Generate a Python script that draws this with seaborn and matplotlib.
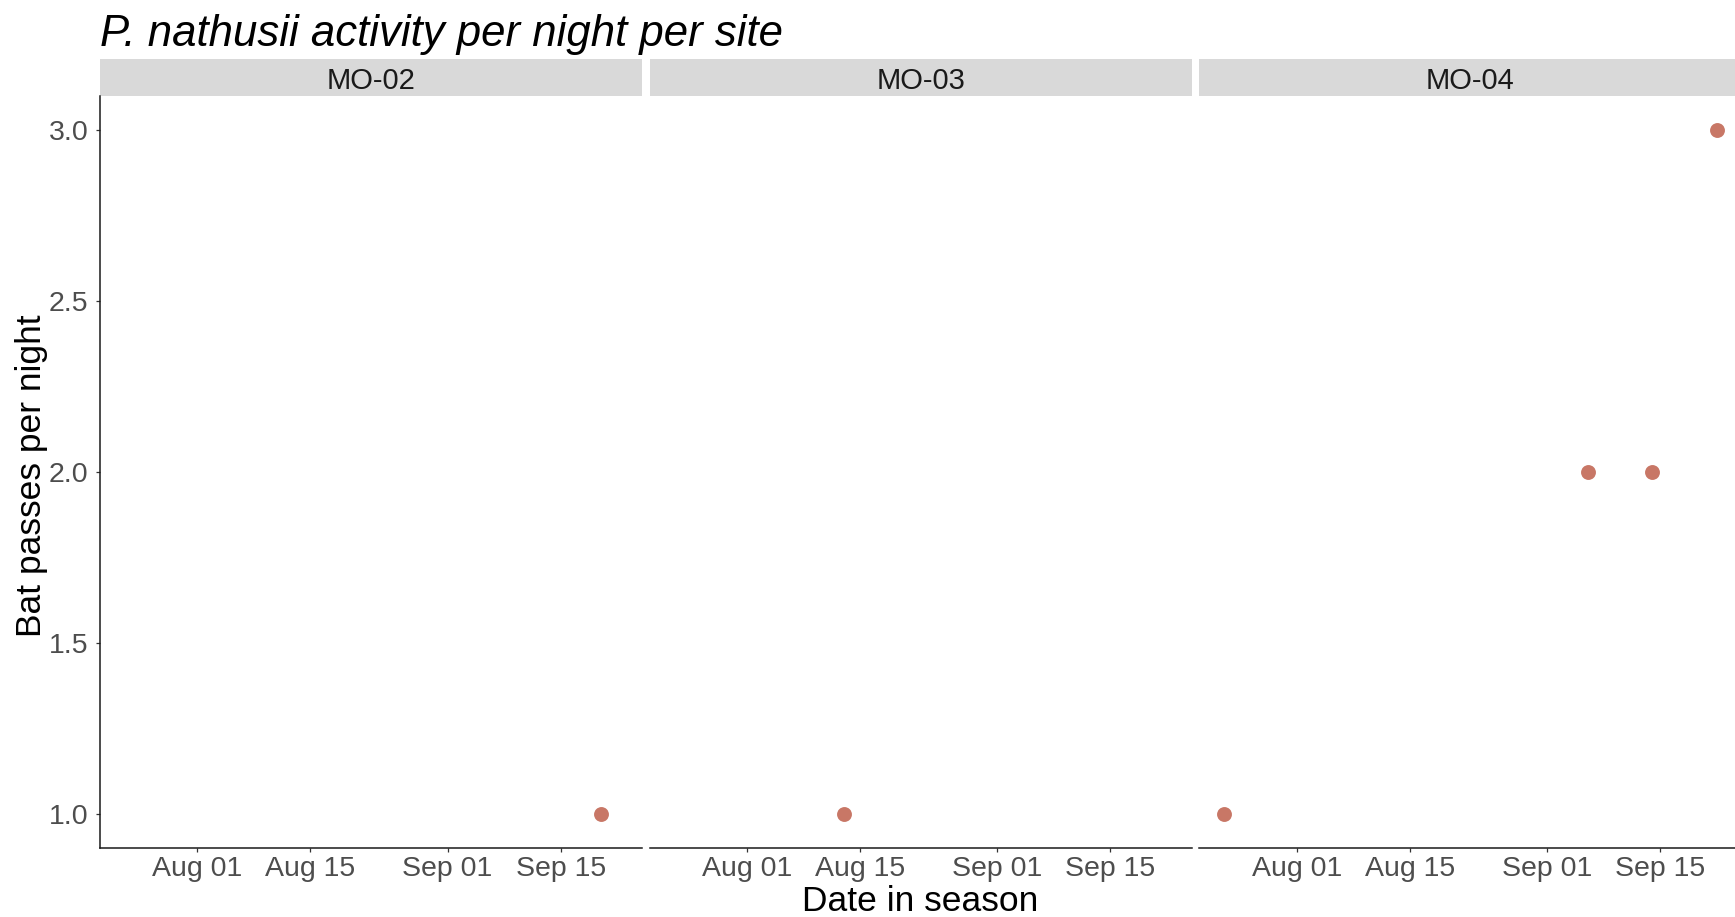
import matplotlib
matplotlib.use("Agg")
import matplotlib.pyplot as plt
from matplotlib.patches import Rectangle
from matplotlib.ticker import FormatStrFormatter
import pandas as pd
import seaborn as sns

# Nights with recorded P. nathusii passes, per monitoring site
sites = ["MO-02", "MO-03", "MO-04"]
site = ["MO-02", "MO-03", "MO-04", "MO-04", "MO-04", "MO-04"]
night = ["2021-09-20", "2021-08-13", "2021-07-23", "2021-09-06", "2021-09-14", "2021-09-22"]
passes = [1, 1, 1, 2, 2, 3]
tick_dates = ["2021-08-01", "2021-08-15", "2021-09-01", "2021-09-15"]
tick_labels = ["Aug 01", "Aug 15", "Sep 01", "Sep 15"]
y_ticks = [1.0, 1.5, 2.0, 2.5, 3.0]

df = pd.DataFrame({"site": site, "night": pd.to_datetime(night), "passes": passes})

sns.set_theme(style="ticks")
plt.rcParams["font.family"] = ["Liberation Sans", "DejaVu Sans"]

point_color = "#C87766"
g = sns.relplot(
    data=df, x="night", y="passes", col="site", col_order=sites,
    kind="scatter", color=point_color, s=115, linewidth=0,
    height=4, aspect=1.0, facet_kws=dict(sharex=True, sharey=True),
)
fig = g.figure
fig.set_size_inches(17.35, 9.17)
fig.subplots_adjust(left=0.0575, right=1.0037, bottom=0.0752, top=0.8953, wspace=0.0143)
g.set_titles("")
g.set_axis_labels("", "")

# ggplot-style 5% expansion around the data range
lo, hi = df["night"].min(), df["night"].max()
pad = (hi - lo) * 0.05
ylo, yhi = df["passes"].min(), df["passes"].max()
ypad = (yhi - ylo) * 0.05

strip_h = 37 / 752
for i, (ax, name) in enumerate(zip(g.axes.flat, sites)):
    ax.set_xlim(lo - pad, hi + pad)
    ax.set_ylim(ylo - ypad, yhi + ypad)
    ax.set_xticks(pd.to_datetime(tick_dates))
    ax.set_xticklabels(tick_labels)
    ax.set_yticks(y_ticks)
    ax.yaxis.set_major_formatter(FormatStrFormatter("%.1f"))
    ax.tick_params(axis="both", labelsize=20.5, colors="#333333", labelcolor="#4D4D4D",
                   length=3, width=0.9)
    ax.tick_params(axis="x", pad=3)
    ax.tick_params(axis="y", pad=5)
    for side in ["top", "right"]:
        ax.spines[side].set_visible(False)
    ax.spines["bottom"].set_color("#1A1A1A")
    ax.spines["bottom"].set_linewidth(1.1)
    if i == 0:
        ax.spines["left"].set_color("#1A1A1A")
        ax.spines["left"].set_linewidth(1.1)
    else:
        ax.spines["left"].set_visible(False)
        ax.tick_params(axis="y", left=False, labelleft=False)
    # facet strip
    ax.add_patch(Rectangle((0, 1.0), 1, strip_h, transform=ax.transAxes,
                           facecolor="#D9D9D9", edgecolor="none", clip_on=False))
    ax.text(0.5, 1.0 + strip_h / 2, name, transform=ax.transAxes,
            ha="center", va="center_baseline", fontsize=21, color="#1A1A1A")

fig.text(100 / 1735, 1 - 46 / 917, "P. nathusii activity per night per site",
         fontsize=31.5, style="italic", ha="left", va="baseline", color="black")
fig.text(0.5305, 1 - 911 / 917, "Date in season", fontsize=25.5,
         ha="center", va="baseline", color="black")
fig.text(32 / 1735, 1 - 476 / 917, "Bat passes per night", fontsize=25.5,
         rotation=90, ha="center", va="center", color="black")

fig.savefig("out.png", dpi=100, facecolor="white")
